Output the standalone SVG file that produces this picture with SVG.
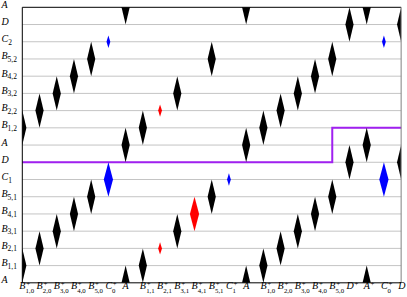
<svg xmlns="http://www.w3.org/2000/svg" width="407" height="297" viewBox="0 0 407 297">
<style>
text{font-family:"Liberation Serif","Times New Roman",serif;font-size:10px;font-style:italic;fill:#000}
.s{font-size:7.5px;font-style:normal}
.t{font-size:6.8px;font-style:normal}
.grid{stroke:#c4c4c4;stroke-width:1;fill:none}
.bk{fill:#000}
.rd{fill:#ff0000}
.bl{fill:#0000ff}
</style>
<defs>
<clipPath id="plot"><rect x="22.3" y="7.3" width="378.84" height="275.52"/></clipPath>
<path id="big" d="M0,-17.22 L4.1,0 L0,17.22 L-4.1,0Z"/>
<path id="bigc" d="M0,-17.22 L4.6,0 L0,17.22 L-4.6,0Z"/>
<path id="small" d="M0,-6.2 L1.9,0 L0,6.2 L-1.9,0Z"/>
</defs>
<rect width="407" height="297" fill="#fff"/>
<g id="grid" class="grid">
<path d="M22.3,24.52H401.14M22.3,41.74H401.14M22.3,58.96H401.14M22.3,76.18H401.14M22.3,93.4H401.14M22.3,110.62H401.14M22.3,127.84H401.14M22.3,145.06H401.14M22.3,162.28H401.14M22.3,179.5H401.14M22.3,196.72H401.14M22.3,213.94H401.14M22.3,231.16H401.14M22.3,248.38H401.14M22.3,265.6H401.14"/>
</g>
<g id="connectors">
<path d="M22.3,162.28H332.26V127.84H401.14" fill="none" stroke="#a020f0" stroke-width="2"/>
</g>
<g id="diamonds" clip-path="url(#plot)">
<g id="n-b10-1" class="bk"><use href="#big" x="22.3" y="127.84"/><use href="#big" x="22.3" y="265.6"/></g>
<g id="n-b20-1" class="bk"><use href="#big" x="39.52" y="110.62"/><use href="#big" x="39.52" y="248.38"/></g>
<g id="n-b30-1" class="bk"><use href="#big" x="56.74" y="93.4"/><use href="#big" x="56.74" y="231.16"/></g>
<g id="n-b40-1" class="bk"><use href="#big" x="73.96" y="76.18"/><use href="#big" x="73.96" y="213.94"/></g>
<g id="n-b50-1" class="bk"><use href="#big" x="91.18" y="58.96"/><use href="#big" x="91.18" y="196.72"/></g>
<g id="n-c0-1" class="bl"><use href="#small" x="108.4" y="41.74"/><use href="#bigc" x="108.4" y="179.5"/></g>
<g id="n-a-1" class="bk"><use href="#big" x="125.62" y="7.3"/><use href="#big" x="125.62" y="145.06"/><use href="#big" x="125.62" y="282.82"/></g>
<g id="n-b11" class="bk"><use href="#big" x="142.84" y="127.84"/><use href="#big" x="142.84" y="265.6"/></g>
<g id="n-b21" class="rd"><use href="#small" x="160.06" y="110.62"/><use href="#small" x="160.06" y="248.38"/></g>
<g id="n-b31" class="bk"><use href="#big" x="177.28" y="93.4"/><use href="#big" x="177.28" y="231.16"/></g>
<g id="n-b41" class="rd"><use href="#bigc" x="194.5" y="213.94"/></g>
<g id="n-b51" class="bk"><use href="#big" x="211.72" y="58.96"/><use href="#big" x="211.72" y="196.72"/></g>
<g id="n-c1" class="bl"><use href="#small" x="228.94" y="179.5"/></g>
<g id="n-a-2" class="bk"><use href="#big" x="246.16" y="7.3"/><use href="#big" x="246.16" y="145.06"/><use href="#big" x="246.16" y="282.82"/></g>
<g id="n-b10-2" class="bk"><use href="#big" x="263.38" y="127.84"/><use href="#big" x="263.38" y="265.6"/></g>
<g id="n-b20-2" class="bk"><use href="#big" x="280.6" y="110.62"/><use href="#big" x="280.6" y="248.38"/></g>
<g id="n-b30-2" class="bk"><use href="#big" x="297.82" y="93.4"/><use href="#big" x="297.82" y="231.16"/></g>
<g id="n-b40-2" class="bk"><use href="#big" x="315.04" y="76.18"/><use href="#big" x="315.04" y="213.94"/></g>
<g id="n-b50-2" class="bk"><use href="#big" x="332.26" y="58.96"/><use href="#big" x="332.26" y="196.72"/></g>
<g id="n-dp" class="bk"><use href="#big" x="349.48" y="24.52"/><use href="#big" x="349.48" y="162.28"/></g>
<g id="n-ap" class="bk"><use href="#big" x="366.7" y="7.3"/><use href="#big" x="366.7" y="145.06"/><use href="#big" x="366.7" y="282.82"/></g>
<g id="n-c0-2" class="bl"><use href="#small" x="383.92" y="41.74"/><use href="#bigc" x="383.92" y="179.5"/></g>
<g id="n-d" class="bk"><use href="#big" x="401.14" y="24.52"/><use href="#big" x="401.14" y="162.28"/></g>
</g>
<g id="frame" fill="none">
<path d="M22.3,7.3H401.14M22.3,7.3V282.82H401.14" stroke="#000" stroke-width="1"/>
<path d="M401.14,7.3V282.82" stroke="#808080" stroke-width="1"/>
</g>
<g id="ylabels">
<text x="1.5" y="7.8">A</text>
<text x="1.5" y="25">D</text>
<text x="1.5" y="42.2">C<tspan class="s" dy="2.5">2</tspan></text>
<text x="1.5" y="59.4">B<tspan class="s" dy="2.5">5,2</tspan></text>
<text x="1.5" y="76.7">B<tspan class="s" dy="2.5">4,2</tspan></text>
<text x="1.5" y="93.9">B<tspan class="s" dy="2.5">3,2</tspan></text>
<text x="1.5" y="111.1">B<tspan class="s" dy="2.5">2,2</tspan></text>
<text x="1.5" y="128.3">B<tspan class="s" dy="2.5">1,2</tspan></text>
<text x="1.5" y="145.5">A</text>
<text x="1.5" y="162.8">D</text>
<text x="1.5" y="180">C<tspan class="s" dy="2.5">1</tspan></text>
<text x="1.5" y="197.2">B<tspan class="s" dy="2.5">5,1</tspan></text>
<text x="1.5" y="214.4">B<tspan class="s" dy="2.5">4,1</tspan></text>
<text x="1.5" y="231.6">B<tspan class="s" dy="2.5">3,1</tspan></text>
<text x="1.5" y="248.9">B<tspan class="s" dy="2.5">2,1</tspan></text>
<text x="1.5" y="266.1">B<tspan class="s" dy="2.5">1,1</tspan></text>
<text x="1.5" y="283.3">A</text>
</g>
<g id="xlabels">
<text x="19.3" y="289">B<tspan class="t" dx="0.8" dy="-3.5">+</tspan><tspan class="t" x="25.6" dy="7.7">1,0</tspan></text>
<text x="36.52" y="289">B<tspan class="t" dx="0.8" dy="-3.5">+</tspan><tspan class="t" x="42.82" dy="7.7">2,0</tspan></text>
<text x="53.74" y="289">B<tspan class="t" dx="0.8" dy="-3.5">+</tspan><tspan class="t" x="60.04" dy="7.7">3,0</tspan></text>
<text x="70.96" y="289">B<tspan class="t" dx="0.8" dy="-3.5">+</tspan><tspan class="t" x="77.26" dy="7.7">4,0</tspan></text>
<text x="88.18" y="289">B<tspan class="t" dx="0.8" dy="-3.5">+</tspan><tspan class="t" x="94.48" dy="7.7">5,0</tspan></text>
<text x="105.4" y="289">C<tspan class="t" dx="0.8" dy="-3.5">+</tspan><tspan class="t" x="112" dy="7.7">0</tspan></text>
<text x="122.62" y="289">A</text>
<text x="139.84" y="289">B<tspan class="t" dx="0.8" dy="-3.5">+</tspan><tspan class="t" x="146.14" dy="7.7">1,1</tspan></text>
<text x="157.06" y="289">B<tspan class="t" dx="0.8" dy="-3.5">+</tspan><tspan class="t" x="163.36" dy="7.7">2,1</tspan></text>
<text x="174.28" y="289">B<tspan class="t" dx="0.8" dy="-3.5">+</tspan><tspan class="t" x="180.58" dy="7.7">3,1</tspan></text>
<text x="191.5" y="289">B<tspan class="t" dx="0.8" dy="-3.5">+</tspan><tspan class="t" x="197.8" dy="7.7">4,1</tspan></text>
<text x="208.72" y="289">B<tspan class="t" dx="0.8" dy="-3.5">+</tspan><tspan class="t" x="215.02" dy="7.7">5,1</tspan></text>
<text x="225.94" y="289">C<tspan class="t" dx="0.8" dy="-3.5">+</tspan><tspan class="t" x="232.54" dy="7.7">1</tspan></text>
<text x="243.16" y="289">A</text>
<text x="260.38" y="289">B<tspan class="t" dx="0.8" dy="-3.5">+</tspan><tspan class="t" x="266.68" dy="7.7">1,0</tspan></text>
<text x="277.6" y="289">B<tspan class="t" dx="0.8" dy="-3.5">+</tspan><tspan class="t" x="283.9" dy="7.7">2,0</tspan></text>
<text x="294.82" y="289">B<tspan class="t" dx="0.8" dy="-3.5">+</tspan><tspan class="t" x="301.12" dy="7.7">3,0</tspan></text>
<text x="312.04" y="289">B<tspan class="t" dx="0.8" dy="-3.5">+</tspan><tspan class="t" x="318.34" dy="7.7">4,0</tspan></text>
<text x="329.26" y="289">B<tspan class="t" dx="0.8" dy="-3.5">+</tspan><tspan class="t" x="335.56" dy="7.7">5,0</tspan></text>
<text x="346.48" y="289">D<tspan class="t" dx="0.8" dy="-3.5">+</tspan></text>
<text x="363.7" y="289">A<tspan class="t" dx="0.8" dy="-3.5">+</tspan></text>
<text x="380.92" y="289">C<tspan class="t" dx="0.8" dy="-3.5">+</tspan><tspan class="t" x="387.52" dy="7.7">0</tspan></text>
<text x="398.14" y="289">D</text>
</g>
</svg>
